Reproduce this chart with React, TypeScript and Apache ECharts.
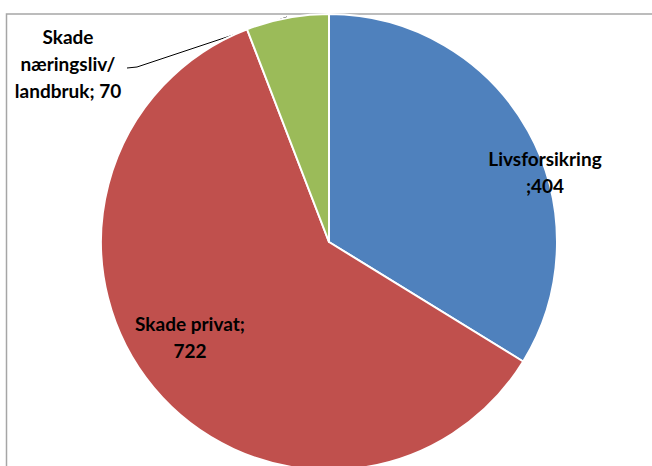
import React, { useEffect, useRef } from "react";
import * as echarts from "echarts";

const categories = ["Livsforsikring", "Skade privat", "Skade næringsliv/landbruk"];
const values = [404, 722, 70];
const colors = ["#4f81bd", "#c0504d", "#9bbb59"];
const labelTexts = ["Livsforsikring\n;404", "Skade privat;\n722", "Skade\nnæringsliv/\nlandbruk; 70"];

export default function App() {
  const ref = useRef<HTMLDivElement>(null);
  useEffect(() => {
    if (!ref.current) return;
    const chart = echarts.init(ref.current, undefined, { renderer: "svg" });
    const labelPos = [
      { x: 545, y: 172 },
      { x: 190, y: 337 },
      { x: 68, y: 63 },
    ];
    chart.setOption({
      animation: false,
      backgroundColor: "#ffffff",
      graphic: [
        {
          type: "rect",
          shape: { x: 6.5, y: 14, width: 700, height: 520 },
          style: { fill: "none", stroke: "#a6a6a6", lineWidth: 1.5 },
          z: -1,
        },
      ],
      series: [
        {
          type: "pie",
          center: [329, 242],
          radius: 228,
          startAngle: 90,
          clockwise: true,
          data: categories.map((name, i) => ({
            name,
            value: values[i],
            itemStyle: { color: colors[i] },
            label: {
              formatter: labelTexts[i],
              position: i === 2 ? "outside" : "inside",
            },
            labelLine: { show: i === 2 },
          })),
          itemStyle: { borderColor: "#ffffff", borderWidth: 2 },
          label: {
            show: true,
            color: "#000000",
            fontFamily: "Lato",
            fontWeight: "bold",
            fontSize: 19,
            lineHeight: 27,
            align: "center",
          },
          labelLine: {
            show: true,
            lineStyle: { color: "#000000", width: 1 },
          },
          labelLayout: (params: any) => {
            const p = labelPos[params.dataIndex];
            const out: any = { x: p.x, y: p.y, align: "center", verticalAlign: "middle" };
            if (params.dataIndex === 2) {
              out.labelLinePoints = [
                [287, 17],
                [137, 67],
                [127, 68],
              ];
            }
            return out;
          },
        },
      ],
    });
    return () => chart.dispose();
  }, []);
  return (
    <div
      ref={ref}
      style={{ position: "fixed", left: 0, top: 0, width: 652, height: 466 }}
    />
  );
}
